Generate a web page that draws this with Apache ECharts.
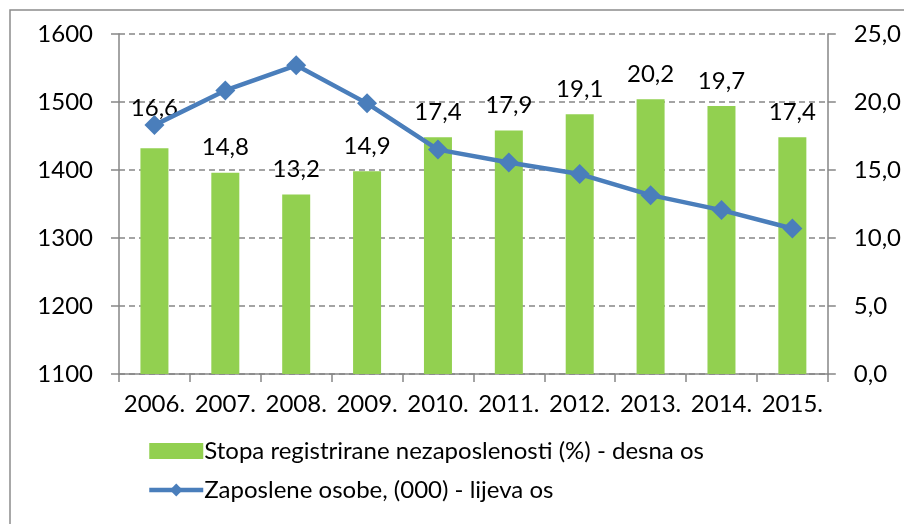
<!DOCTYPE html>
<html>
<head>
<meta charset="utf-8">
<script src="https://cdn.jsdelivr.net/npm/echarts@6/dist/echarts.min.js"></script>
<style>
  html, body { margin: 0; padding: 0; background: #fff; }
  #chart { width: 904px; height: 524px; }
</style>
</head>
<body>
<div id="chart"></div>
<script>
const years = ['2006.', '2007.', '2008.', '2009.', '2010.', '2011.', '2012.', '2013.', '2014.', '2015.']
const unemploymentRate = [16.6, 14.8, 13.2, 14.9, 17.4, 17.9, 19.1, 20.2, 19.7, 17.4]
const employed = [1466, 1517, 1554, 1498, 1430, 1411, 1394, 1363, 1341, 1314]

const fontFamily = 'Lato, "Open Sans", sans-serif'
const fontSize = 24
const axisGray = '#868686'

const myChart = echarts.init(document.getElementById('chart'), null, { renderer: 'canvas' })

myChart.setOption({
  animation: false,
  textStyle: { fontFamily: fontFamily, color: '#000' },
  graphic: [
    {
      type: 'rect',
      shape: { x: 10, y: 10, width: 1000, height: 1000 },
      style: { fill: 'none', stroke: '#8c8c8c', lineWidth: 1.5 },
      silent: true,
    },
  ],
  grid: { left: 119, right: 75, top: 34, bottom: 150 },
  legend: {
    orient: 'vertical',
    left: 142,
    top: 434,
    itemWidth: 54,
    itemHeight: 16,
    itemGap: 15,
    textStyle: { fontFamily: fontFamily, fontSize: fontSize, color: '#000', padding: [0, 0, 0, -4] },
    data: [
      { name: 'Stopa registrirane nezaposlenosti (%) - desna os', icon: 'rect' },
      { name: 'Zaposlene osobe, (000) - lijeva os', lineStyle: { width: 4.5 } },
    ],
  },
  xAxis: {
    type: 'category',
    data: years,
    axisLine: { lineStyle: { color: axisGray, width: 1.5 } },
    axisTick: { show: true, length: 8, lineStyle: { color: axisGray, width: 1.5 } },
    axisLabel: { interval: 0, hideOverlap: false, fontSize: fontSize, color: '#000', margin: 18, fontFamily: fontFamily },
  },
  yAxis: [
    {
      type: 'value',
      min: 1100,
      max: 1600,
      interval: 100,
      position: 'left',
      axisLine: { show: true, lineStyle: { color: axisGray, width: 1.5 } },
      axisTick: { show: true, length: 8, lineStyle: { color: axisGray, width: 1.5 } },
      axisLabel: { fontSize: fontSize, color: '#000', margin: 26, fontFamily: fontFamily, formatter: v => String(v) },
      splitLine: { lineStyle: { color: axisGray, type: [6, 4], width: 1.5 } },
    },
    {
      type: 'value',
      min: 0,
      max: 25,
      interval: 5,
      position: 'right',
      axisLine: { show: true, lineStyle: { color: axisGray, width: 1.5 } },
      axisTick: { show: true, length: 8, lineStyle: { color: axisGray, width: 1.5 } },
      axisLabel: {
        fontSize: fontSize,
        color: '#000',
        margin: 26,
        fontFamily: fontFamily,
        formatter: v => v.toFixed(1).replace('.', ','),
      },
      splitLine: { show: false },
    },
  ],
  series: [
    {
      name: 'Stopa registrirane nezaposlenosti (%) - desna os',
      type: 'bar',
      yAxisIndex: 1,
      barWidth: 28,
      itemStyle: { color: '#92D050' },
      label: {
        show: true,
        position: 'top',
        distance: 13,
        fontSize: fontSize,
        color: '#000',
        fontFamily: fontFamily,
        formatter: p => p.value.toFixed(1).replace('.', ','),
      },
      data: unemploymentRate.map((v, i) => (i === 0 ? { value: v, label: { offset: [0, -15] } } : v)),
      z: 2,
    },
    {
      name: 'Zaposlene osobe, (000) - lijeva os',
      type: 'line',
      yAxisIndex: 0,
      data: employed,
      symbol: 'diamond',
      symbolSize: 20,
      lineStyle: { color: '#4A7EBB', width: 4.5 },
      itemStyle: { color: '#4A7EBB' },
      z: 3,
    },
  ],
})
</script>
</body>
</html>
